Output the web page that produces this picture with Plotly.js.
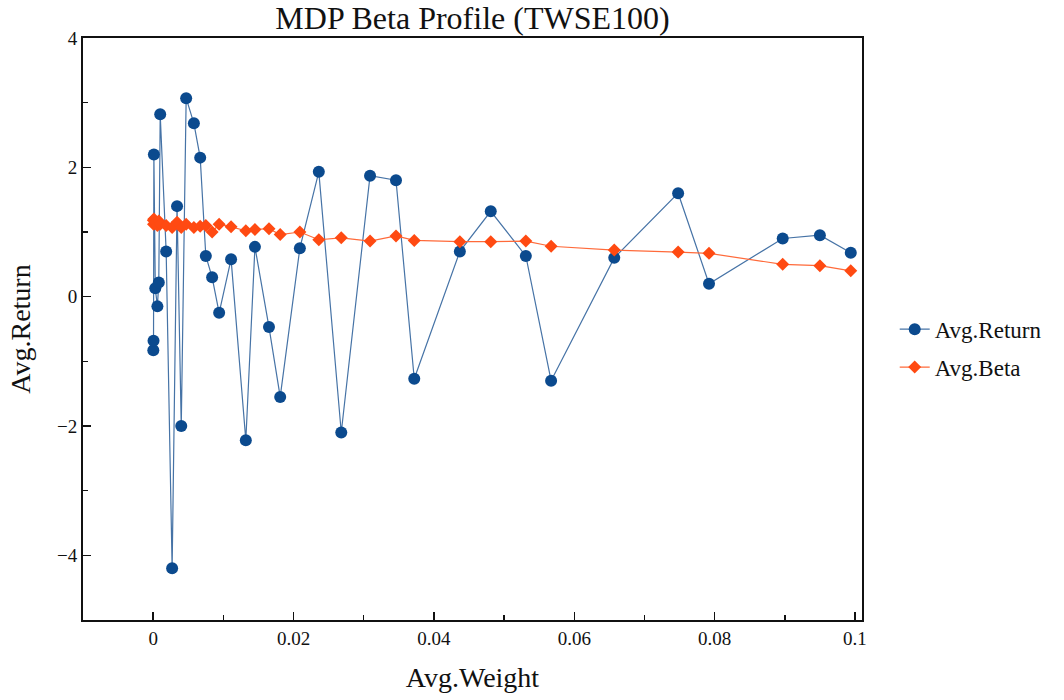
<!DOCTYPE html>
<html>
<head>
<meta charset="utf-8">
<script src="https://cdn.plot.ly/plotly-3.0.1.min.js"></script>
<style>html,body{margin:0;padding:0;background:#fff}#chart{width:1064px;height:700px}</style>
</head>
<body>
<div id="chart"></div>
<script>
const avgWeight = [0.00002, 0.00005, 0.0001, 0.0003, 0.0006, 0.0008, 0.0010, 0.00185, 0.0027, 0.0034, 0.0040, 0.0047, 0.0058, 0.0067, 0.0075, 0.0084, 0.0094, 0.0111, 0.0132, 0.0145, 0.0165, 0.0181, 0.0209, 0.0236, 0.0268, 0.0309, 0.0346, 0.0372, 0.0437, 0.0481, 0.0531, 0.0567, 0.0657, 0.0748, 0.0792, 0.0897, 0.0950, 0.0994];
const avgReturn = [-0.83, -0.68, 2.2, 0.13, -0.15, 0.22, 2.82, 0.7, -4.2, 1.4, -2.0, 3.07, 2.68, 2.15, 0.63, 0.3, -0.25, 0.58, -2.22, 0.77, -0.47, -1.55, 0.75, 1.93, -2.1, 1.87, 1.8, -1.27, 0.7, 1.32, 0.63, -1.3, 0.6, 1.6, 0.2, 0.9, 0.95, 0.68];
const avgBeta = [1.18, 1.12, 1.2, 1.15, 1.1, 1.17, 1.12, 1.1, 1.07, 1.15, 1.07, 1.12, 1.07, 1.09, 1.1, 1.0, 1.12, 1.08, 1.02, 1.04, 1.05, 0.96, 1.0, 0.88, 0.91, 0.86, 0.94, 0.87, 0.85, 0.85, 0.86, 0.78, 0.72, 0.69, 0.67, 0.5, 0.48, 0.4];

const serif = "Liberation Serif, Times New Roman, serif";

const traces = [
  {
    x: avgWeight, y: avgReturn, name: "Avg.Return", type: "scatter", mode: "lines+markers",
    line: {color: "#4673a6", width: 1.2},
    marker: {color: "#0b4a8e", size: 12, symbol: "circle"},
    legendgroup: "a"
  },
  {
    x: avgWeight, y: avgBeta, name: "Avg.Beta", type: "scatter", mode: "lines+markers",
    line: {color: "#ff6a3a", width: 1.2},
    marker: {color: "#ff4a12", size: 10, symbol: "diamond"},
    legendgroup: "b"
  }
];

const axisCommon = {
  showline: true, mirror: true, linecolor: "#111", linewidth: 2,
  ticks: "inside", ticklen: 8, tickwidth: 1.5, tickcolor: "#111",
  showgrid: false, zeroline: false,
  tickfont: {family: serif, size: 19, color: "#111"}
};

const layout = {
  width: 1064, height: 700,
  paper_bgcolor: "#fff", plot_bgcolor: "#fff",
  margin: {l: 83, r: 202, t: 38, b: 80},
  title: {text: "MDP Beta Profile (TWSE100)", font: {family: serif, size: 32, color: "#111"},
          x: 0.5, xref: "paper", xanchor: "center", y: 0.974, yref: "container", yanchor: "middle"},
  xaxis: Object.assign({}, axisCommon, {
    range: [-0.01, 0.101], dtick: 0.02, tick0: 0,
    minor: {dtick: 0.01, ticks: "inside", ticklen: 5, tickwidth: 1.5, tickcolor: "#111"},
    title: {text: "Avg.Weight", font: {family: serif, size: 28, color: "#111"}, standoff: 20}
  }),
  yaxis: Object.assign({}, axisCommon, {
    range: [-5, 4], dtick: 2, tick0: 0,
    minor: {dtick: 1, ticks: "inside", ticklen: 5, tickwidth: 1.5, tickcolor: "#111"},
    title: {text: "Avg.Return", font: {family: serif, size: 28, color: "#111"}, standoff: 18}
  }),
  showlegend: true,
  legend: {x: 1.042, xanchor: "left", y: 0.467, yanchor: "middle",
           font: {family: serif, size: 23, color: "#111"},
           traceorder: "grouped", tracegroupgap: 5, bgcolor: "rgba(0,0,0,0)"}
};

Plotly.newPlot("chart", traces, layout, {displayModeBar: false, staticPlot: true});
</script>
</body>
</html>
